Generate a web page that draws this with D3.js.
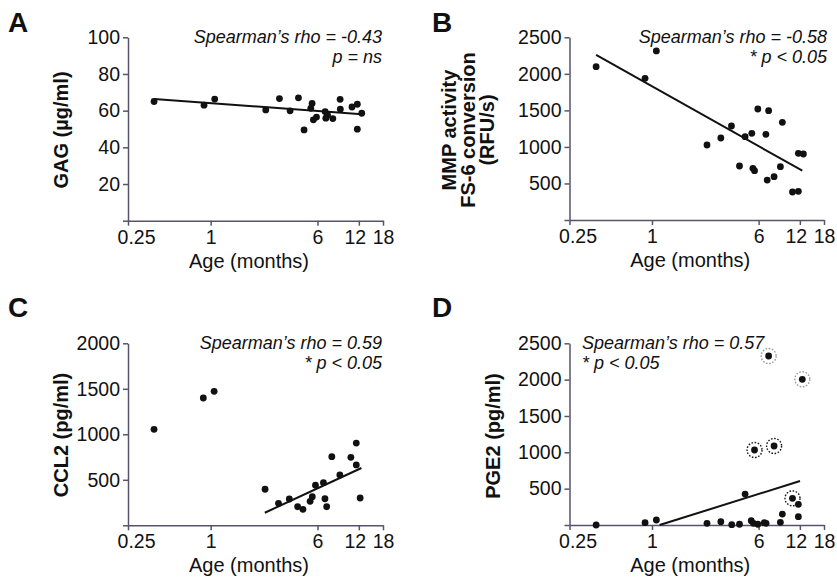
<!DOCTYPE html>
<html>
<head>
<meta charset="utf-8">
<script src="https://cdn.jsdelivr.net/npm/d3@7"></script>
<style>
  html, body { margin: 0; padding: 0; background: #ffffff; }
  svg { display: block; font-family: "Liberation Sans", Arial, Helvetica, sans-serif; }
</style>
</head>
<body>
<svg id="chart" width="837" height="578"></svg>
<script>
// ---- Shared axis ticks ----
const ageTicks = [0.25, 1, 6, 12, 18];

// ---- Panel A: GAG ----
const ageA = [0.387, 0.895, 1.07, 2.52, 3.17, 3.79, 4.36, 4.79, 5.48, 5.36, 5.6, 5.9, 6.82, 6.9, 7.1, 7.76, 8.77, 8.8, 10.7, 11.7, 11.7, 12.6];
const gagA = [65, 63, 66.3, 60.4, 66.6, 59.9, 67, 49.5, 63.9, 61.3, 55, 56.5, 59.5, 55.9, 57.7, 55.7, 66.2, 60.8, 62, 63.5, 49.9, 58.6];
const fitAgeA = [0.387, 12.6];
const fitGagA = [66.3, 58.1];
const yTicksA = [0, 20, 40, 60, 80, 100];

// ---- Panel B: MMP activity ----
const ageB = [0.391, 0.89, 1.076, 2.52, 3.18, 3.8, 4.35, 4.78, 5.35, 5.45, 5.6, 5.92, 6.78, 6.93, 7.1, 7.78, 8.65, 8.94, 10.6, 11.7, 11.7, 12.73];
const mmpB = [2098, 1939, 2313, 1026, 1122, 1286, 739, 1140, 1186, 707, 675, 1519, 1173, 547, 1496, 593, 729, 1337, 383, 393, 912, 903];
const fitAgeB = [0.391, 12.5];
const fitMmpB = [2258, 675];
const yTicksB = [0, 500, 1000, 1500, 2000, 2500];

// ---- Panel C: CCL2 ----
const ageC = [0.387, 0.884, 1.06, 2.49, 3.12, 3.74, 4.3, 4.7, 5.3, 5.5, 5.8, 6.63, 6.8, 7.0, 7.63, 8.73, 10.5, 11.5, 11.5, 12.27];
const ccl2C = [1055, 1399, 1472, 396, 242, 289, 204, 176, 264, 314, 440, 468, 292, 204, 754, 553, 747, 904, 663, 300];
const fitAgeC = [2.48, 12.54];
const fitCcl2C = [138, 630];
const yTicksC = [0, 500, 1000, 1500, 2000];

// ---- Panel D: PGE2 (ring: 0 none, 1 dark dotted ring, 2 grey dotted ring) ----
const ageD = [0.391, 0.89, 1.076, 2.52, 3.18, 3.82, 4.35, 4.78, 5.3, 5.5, 5.92, 5.6, 6.6, 6.8, 7.1, 7.78, 8.65, 8.94, 10.6, 11.7, 11.7, 12.5];
const pge2D = [0, 32, 69, 23, 46, 4, 10, 426, 59, 23, 10, 1032, 32, 23, 2325, 1087, 37, 151, 367, 285, 114, 2005];
const ringD = [0, 0, 0, 0, 0, 0, 0, 0, 0, 0, 0, 1, 0, 0, 2, 1, 0, 0, 1, 0, 0, 2];
const fitAgeD = [1.137, 12.03];
const fitPge2D = [0, 605];
const yTicksD = [0, 500, 1000, 1500, 2000, 2500];

// ---- Labels ----
const panelLetters = ["A", "B", "C", "D"];
const yTitles = [["GAG (\u00b5g/ml)"], ["MMP activity", "FS-6 conversion", "(RFU/s)"], ["CCL2 (pg/ml)"], ["PGE2 (pg/ml)"]];
const statLines = [
  ["Spearman\u2019s rho = -0.43", "p = ns"],
  ["Spearman\u2019s rho = -0.58", "* p < 0.05"],
  ["Spearman\u2019s rho = 0.59", "* p < 0.05"],
  ["Spearman\u2019s rho = 0.57", "* p < 0.05"]
];
const xTitle = "Age (months)";

// ---- Drawing ----
const svg = d3.select("#chart");
const AXIS = "#58536b";
const INK = "#111111";

const panels = [
  { ages: ageA, vals: gagA, fitX: fitAgeA, fitY: fitGagA, yTicks: yTicksA, ymax: 100,
    x0: 128, x1: 383, y0: 220.7, y1: 37.3, letter: [8, 32], title: [68, 130],
    stat: { x: 382, y: 43, anchor: "end" } },
  { ages: ageB, vals: mmpB, fitX: fitAgeB, fitY: fitMmpB, yTicks: yTicksB, ymax: 2500,
    x0: 569.5, x1: 824, y0: 220, y1: 37.3, letter: [432, 32], title: [494, 130],
    stat: { x: 827, y: 43, anchor: "end" } },
  { ages: ageC, vals: ccl2C, fitX: fitAgeC, fitY: fitCcl2C, yTicks: yTicksC, ymax: 2000,
    x0: 128, x1: 383, y0: 525.3, y1: 343.3, letter: [8, 317], title: [68, 435],
    stat: { x: 382, y: 348.5, anchor: "end" } },
  { ages: ageD, vals: pge2D, fitX: fitAgeD, fitY: fitPge2D, yTicks: yTicksD, ymax: 2500,
    x0: 569.5, x1: 824, y0: 525, y1: 343.3, letter: [432, 317], title: [500, 436],
    stat: { x: 582, y: 349, anchor: "start" }, rings: ringD }
];

panels.forEach((p, i) => {
  const x = d3.scaleLog().base(2).domain([0.25, 18]).range([p.x0, p.x1]);
  const y = d3.scaleLinear().domain([0, p.ymax]).range([p.y0, p.y1]);
  const g = svg.append("g");

  // x axis
  const xAxis = d3.axisBottom(x).tickValues(ageTicks)
    .tickFormat(d => String(d)).tickSize(5).tickSizeOuter(0).tickPadding(4);
  const gx = g.append("g").attr("transform", `translate(0,${p.y0})`).call(xAxis);
  gx.selectAll("text")
    .attr("dx", d => d === 0.25 ? 8 : (d === 12 ? -4 : 0));

  // y axis
  const yAxis = d3.axisLeft(y).tickValues(p.yTicks)
    .tickFormat(d => d === 0 ? "" : String(d)).tickSize(5).tickSizeOuter(0).tickPadding(3);
  const gy = g.append("g").attr("transform", `translate(${p.x0},0)`).call(yAxis);

  [gx, gy].forEach(a => {
    a.select(".domain").attr("stroke", AXIS).attr("stroke-width", 1.5);
    a.selectAll(".tick line").attr("stroke", AXIS).attr("stroke-width", 1.5);
    a.selectAll("text").attr("fill", INK).attr("font-size", 19.5)
      .attr("font-family", "Liberation Sans, Arial, sans-serif");
  });

  // x title
  g.append("text")
    .attr("x", (p.x0 + p.x1) / 2 - 6.5).attr("y", p.y0 + 47)
    .attr("text-anchor", "middle").attr("font-size", 20).attr("fill", INK)
    .text(xTitle);

  // y title (rotated, possibly several lines; last line nearest the axis)
  const lines = yTitles[i];
  const yt = g.append("text")
    .attr("transform", `translate(${p.title[0]},${p.title[1]}) rotate(-90)`)
    .attr("text-anchor", "middle").attr("font-size", 20).attr("font-weight", "bold")
    .attr("fill", INK);
  lines.forEach((t, k) => {
    yt.append("tspan").attr("x", 0).attr("y", -(lines.length - 1 - k) * 19).text(t);
  });

  // panel letter
  g.append("text").attr("x", p.letter[0]).attr("y", p.letter[1])
    .attr("font-size", 28).attr("font-weight", "bold").attr("fill", INK)
    .text(panelLetters[i]);

  // statistics annotation
  statLines[i].forEach((t, k) => {
    g.append("text").attr("x", p.stat.x).attr("y", p.stat.y + k * 20)
      .attr("text-anchor", p.stat.anchor).attr("font-size", 18)
      .attr("font-style", "italic").attr("fill", INK).text(t);
  });

  // fit line
  const line = d3.line().x(d => x(d[0])).y(d => y(d[1]));
  g.append("path").datum(p.fitX.map((a, k) => [a, p.fitY[k]]))
    .attr("d", line).attr("fill", "none").attr("stroke", INK).attr("stroke-width", 2);

  // points
  const pts = p.ages.map((a, k) => ({ a, v: p.vals[k], ring: p.rings ? p.rings[k] : 0 }));
  g.selectAll("circle.ring").data(pts.filter(d => d.ring > 0)).join("circle")
    .attr("class", "ring")
    .attr("cx", d => x(d.a)).attr("cy", d => y(d.v)).attr("r", 7.5)
    .attr("fill", "none")
    .attr("stroke", d => d.ring === 1 ? "#1a1a1a" : "#9a9a9a")
    .attr("stroke-width", 1.4).attr("stroke-dasharray", "1.6,1.6");
  g.selectAll("circle.pt").data(pts).join("circle")
    .attr("class", "pt")
    .attr("cx", d => x(d.a)).attr("cy", d => y(d.v)).attr("r", 3.4)
    .attr("fill", INK);
});
</script>
</body>
</html>
